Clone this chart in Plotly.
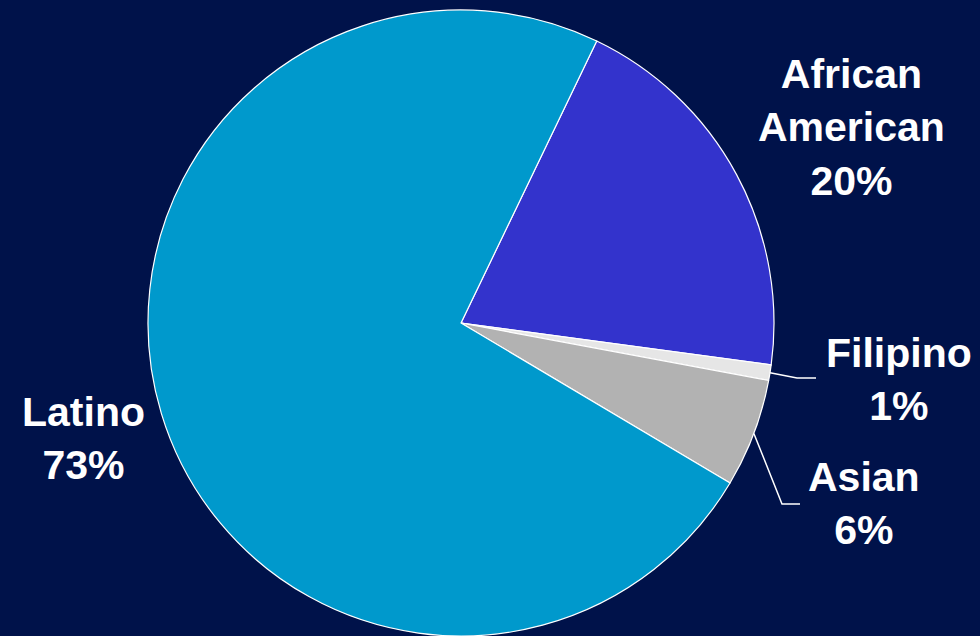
import math
import plotly.graph_objects as go

# ---- data ----
groups = ["African American", "Filipino", "Asian", "Latino"]
shares = [20.0, 0.8, 5.6, 73.6]
pct_labels = ["20%", "1%", "6%", "73%"]
slice_colors = ["#3333CC", "#E6E6E6", "#B2B2B2", "#0099CC"]

W, H = 980, 636
BG = "#00124A"
ROT = 25.7

# pie geometry (pixels)
cx, cy, r = 461, 323, 313

fig = go.Figure(go.Pie(
    labels=groups,
    values=shares,
    sort=False,
    direction="clockwise",
    rotation=ROT,
    marker=dict(colors=slice_colors, line=dict(color="white", width=1.2)),
    textinfo="none",
    hoverinfo="label+percent",
    showlegend=False,
    domain=dict(x=[(cx - r) / W, (cx + r) / W], y=[(H - cy - r) / H, (H - cy + r) / H]),
))

# label positions (pixels, block centres)
label_pos = {
    "African American": (851, 127),
    "Filipino": (899, 379),
    "Asian": (864, 503),
    "Latino": (83, 438),
}
label_text = {
    "African American": "African<br>American",
}

annotations = []
for g, p in zip(groups, pct_labels):
    x, y = label_pos[g]
    annotations.append(dict(
        x=x / W, y=1 - y / H, xref="paper", yref="paper",
        text=f"{label_text.get(g, g)}<br>{p}",
        showarrow=False, xanchor="center", yanchor="middle",
        font=dict(family="Liberation Sans, Arial, sans-serif", size=41,
                  color="white", weight="bold"),
    ))

# leader lines from slice mid-angle on the rim
total = sum(shares)
start = ROT
mid_angles = {}
for g, v in zip(groups, shares):
    span = v / total * 360
    mid_angles[g] = start + span / 2
    start += span

elbows = {
    "Filipino": [(797, 378), (816, 378)],
    "Asian": [(782, 504), (800, 504)],
}
shapes = []
for g, pts in elbows.items():
    a = math.radians(mid_angles[g])
    px = cx + r * math.sin(a)
    py = cy - r * math.cos(a)
    path_pts = [(px, py)] + pts
    path = "M " + " L ".join(f"{x / W},{1 - y / H}" for x, y in path_pts)
    shapes.append(dict(type="path", xref="paper", yref="paper", path=path,
                       line=dict(color="white", width=1.5)))

fig.update_layout(
    width=W, height=H,
    margin=dict(l=0, r=0, t=0, b=0),
    paper_bgcolor=BG, plot_bgcolor=BG,
    annotations=annotations,
    shapes=shapes,
)

fig.write_html(
    "out.html",
    config={"displayModeBar": False},
    post_script="document.body.style.margin='0';document.body.style.background='" + BG + "';",
)
